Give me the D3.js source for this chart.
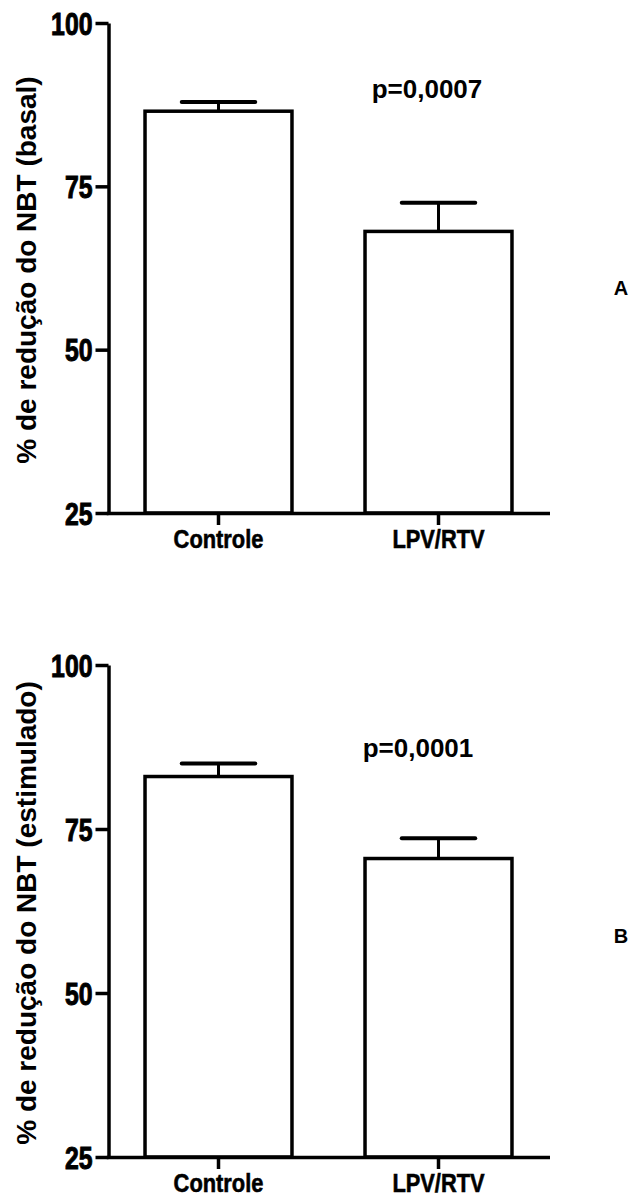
<!DOCTYPE html>
<html>
<head>
<meta charset="utf-8">
<script src="https://cdn.jsdelivr.net/npm/d3@7"></script>
<style>
  body { margin: 0; background: #fff; }
  svg { display: block; }
  text { font-family: "Liberation Sans", Arial, sans-serif; font-weight: bold; fill: #000; }
</style>
</head>
<body>
<div id="chart"></div>
<script>
// data
var categories = ["Controle", "LPV/RTV"];
var basalMeans = [86.5, 68.1];
var basalSem = [1.4, 4.4];
var stimMeans = [83.0, 70.5];
var stimSem = [2.0, 3.1];
var yTicks = [25, 50, 75, 100];
var pLabels = ["p=0,0007", "p=0,0001"];
var panelLetters = ["A", "B"];
var yTitles = ["% de redução do NBT (basal)", "% de redução do NBT (estimulado)"];

var width = 632, height = 1198;

var svg = d3.select("#chart")
  .append("svg")
  .attr("width", width)
  .attr("height", height);

// squeeze a text horizontally (the original uses a condensed face)
function condense(sel, ratio) {
  sel.each(function () {
    var w = this.getComputedTextLength();
    d3.select(this)
      .attr("textLength", w * ratio)
      .attr("lengthAdjust", "spacingAndGlyphs");
  });
}

// one panel per measure
var panels = [
  { means: basalMeans, sem: basalSem, top: 23, bottom: 513, pX: 427, pY: 98, letterY: 295 },
  { means: stimMeans, sem: stimSem, top: 665, bottom: 1157, pX: 418, pY: 757, letterY: 943 }
];

var x = d3.scaleBand()
  .domain(categories)
  .range([108.5, 548.5])
  .paddingInner(0.332)
  .paddingOuter(0.166);

panels.forEach(function (p, k) {
  var y = d3.scaleLinear()
    .domain([25, 100])
    .range([p.bottom, p.top]);

  var data = categories.map(function (c, i) {
    return { name: c, mean: p.means[i], sem: p.sem[i] };
  });

  var g = svg.append("g");

  // bars
  g.selectAll(".bar")
    .data(data)
    .enter()
    .append("rect")
    .attr("x", function (d) { return x(d.name); })
    .attr("width", x.bandwidth())
    .attr("y", function (d) { return y(d.mean); })
    .attr("height", function (d) { return y(25) - y(d.mean); })
    .attr("fill", "#fff")
    .attr("stroke", "#000")
    .attr("stroke-width", 3.5);

  // error bars (upper only)
  g.selectAll(".err")
    .data(data)
    .enter()
    .append("line")
    .attr("x1", function (d) { return x(d.name) + x.bandwidth() / 2; })
    .attr("x2", function (d) { return x(d.name) + x.bandwidth() / 2; })
    .attr("y1", function (d) { return y(d.mean); })
    .attr("y2", function (d) { return y(d.mean + d.sem); })
    .attr("stroke", "#000")
    .attr("stroke-width", 3);

  g.selectAll(".cap")
    .data(data)
    .enter()
    .append("line")
    .attr("x1", function (d) { return x(d.name) + x.bandwidth() / 4; })
    .attr("x2", function (d) { return x(d.name) + x.bandwidth() * 3 / 4; })
    .attr("y1", function (d) { return y(d.mean + d.sem); })
    .attr("y2", function (d) { return y(d.mean + d.sem); })
    .attr("stroke", "#000")
    .attr("stroke-width", 4)
    .attr("stroke-linecap", "round");

  // y axis
  var yAxis = g.append("g")
    .attr("transform", "translate(108.5,0)")
    .call(d3.axisLeft(y).tickValues(yTicks).tickSize(13).tickSizeOuter(0).tickPadding(3));
  yAxis.selectAll("path, line").attr("stroke", "#000").attr("stroke-width", 3.5);
  yAxis.selectAll("text")
    .style("font-size", "31px")
    .attr("dy", "0.36em")
    .attr("stroke", "#000")
    .attr("stroke-width", 1)
    .call(condense, 0.8);

  // x axis
  var xAxis = g.append("g")
    .attr("transform", "translate(0," + p.bottom + ")")
    .call(d3.axisBottom(x).tickSize(12).tickSizeOuter(0).tickPadding(5));
  xAxis.select(".domain").attr("d", "M106.75,0.5H550");
  xAxis.selectAll("path, line").attr("stroke", "#000").attr("stroke-width", 3.5);
  xAxis.selectAll("text")
    .style("font-size", "26px")
    .attr("stroke", "#000")
    .attr("stroke-width", 0.6)
    .call(condense, 0.84);

  // y title
  g.append("text")
    .attr("transform", "translate(36," + ((p.top + p.bottom) / 2 + 2) + ") rotate(-90)")
    .attr("text-anchor", "middle")
    .style("font-size", "28px")
    .text(yTitles[k]);

  // p value
  g.append("text")
    .attr("x", p.pX)
    .attr("y", p.pY)
    .attr("text-anchor", "middle")
    .style("font-size", "26px")
    .text(pLabels[k]);

  // panel letter
  g.append("text")
    .attr("x", 621)
    .attr("y", p.letterY)
    .attr("text-anchor", "middle")
    .style("font-size", "20px")
    .text(panelLetters[k]);
});
</script>
</body>
</html>
